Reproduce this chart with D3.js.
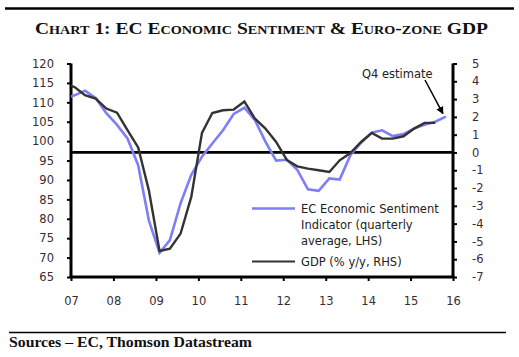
<!DOCTYPE html>
<html><head><meta charset="utf-8">
<script src="https://cdn.jsdelivr.net/npm/d3@7/dist/d3.min.js"></script>
<style>
html,body{margin:0;padding:0;background:#fff;}
svg{display:block;}
</style></head>
<body>
<script>
// Quarters 2006Q4 .. 2015Q4
const quarters = ["2006Q4",
 "2007Q1","2007Q2","2007Q3","2007Q4",
 "2008Q1","2008Q2","2008Q3","2008Q4",
 "2009Q1","2009Q2","2009Q3","2009Q4",
 "2010Q1","2010Q2","2010Q3","2010Q4",
 "2011Q1","2011Q2","2011Q3","2011Q4",
 "2012Q1","2012Q2","2012Q3","2012Q4",
 "2013Q1","2013Q2","2013Q3","2013Q4",
 "2014Q1","2014Q2","2014Q3","2014Q4",
 "2015Q1","2015Q2","2015Q3","2015Q4"];
// EC Economic Sentiment Indicator (quarterly average, LHS)
const esi = [111.0,
 111.8,113.0,111.1,107.2,
 104.2,100.7,93.8,79.6,
 71.2,74.5,84.0,91.3,
 96.0,99.4,102.8,107.0,
 108.6,105.5,99.9,95.0,
 95.2,92.6,87.6,87.2,
 90.4,90.1,96.4,99.6,
 102.2,102.8,101.3,101.8,
 103.3,104.2,105.0,106.3];
// GDP % y/y (RHS), to 2015Q3
const gdp = [3.85,
 3.68,3.22,3.03,2.47,
 2.24,1.25,0.28,-2.13,
 -5.54,-5.41,-4.56,-2.50,
 1.10,2.22,2.37,2.41,
 2.86,1.91,1.34,0.59,
 -0.42,-0.78,-0.91,-1.00,
 -1.10,-0.44,-0.03,0.59,
 1.10,0.78,0.78,0.91,
 1.34,1.66,1.66];
const leftTicks = [65,70,75,80,85,90,95,100,105,110,115,120];
const rightTicks = [-7,-6,-5,-4,-3,-2,-1,0,1,2,3,4,5];
const yearTicks = [2007,2008,2009,2010,2011,2012,2013,2014,2015,2016];

const W = 519, H = 357;
const svg = d3.select("body").append("svg").attr("width", W).attr("height", H);

const qDate = s => { const y = +s.slice(0,4), q = +s.slice(5); return new Date(y, 3*(q-1)+1, 1); };

const x0 = 71, x1 = 453, yTop = 63.5, yBot = 277;
const x = d3.scaleTime().domain([new Date(2007,0,1), new Date(2016,0,1)]).range([x0, x1]);
const yL = d3.scaleLinear().domain([65,120]).range([yBot, yTop]);
const yR = d3.scaleLinear().domain([-7,5]).range([yBot, yTop]);

// top rule
svg.append("line").attr("x1",5).attr("x2",514).attr("y1",8.5).attr("y2",8.5)
  .attr("stroke","#000").attr("stroke-width",2.5);
// title
svg.append("text").attr("x",35).attr("y",33.5)
  .attr("font-family","'Liberation Serif','DejaVu Serif',serif")
  .attr("font-weight","bold").attr("font-size",16.5)
  .style("font-variant","small-caps")
  .attr("fill","#111")
  .attr("textLength",453).attr("lengthAdjust","spacingAndGlyphs")
  .text("Chart 1: EC Economic Sentiment & Euro-zone GDP");

// clip
svg.append("clipPath").attr("id","plot").append("rect")
  .attr("x",x0).attr("y",yTop-5).attr("width",x1-x0).attr("height",yBot-yTop+10);

const tickFont = "'DejaVu Sans',sans-serif";
const labCol = "#3b2b30";

// left axis
const gL = svg.append("g").attr("transform",`translate(${x0},0)`)
  .call(d3.axisLeft(yL).tickValues(leftTicks).tickSize(4).tickPadding(13).tickFormat(d=>String(d)));
// right axis
const gR = svg.append("g").attr("transform",`translate(${x1},0)`)
  .call(d3.axisRight(yR).tickValues(rightTicks).tickSize(4).tickPadding(15).tickFormat(d=>String(d)));
// bottom axis
const gB = svg.append("g").attr("transform",`translate(0,${yBot})`)
  .call(d3.axisBottom(x).tickValues(yearTicks.map(y=>new Date(y,0,1))).tickSize(4).tickPadding(16)
    .tickFormat(d => d3.timeFormat("%y")(d)));

[gL,gR,gB].forEach(g=>{
  g.select(".domain").attr("stroke","#000").attr("stroke-width",3);
  g.selectAll(".tick line").attr("stroke","#000").attr("stroke-width",2);
  g.selectAll(".tick text").attr("font-family",tickFont).attr("font-size",11.5).attr("fill",labCol);
});
gB.select(".domain").remove();
gB.append("line").attr("x1",x0-1.5).attr("x2",x1+1.5).attr("y1",0).attr("y2",0)
  .attr("stroke","#000").attr("stroke-width",3);
gL.select(".domain").remove();
gL.append("line").attr("x1",0).attr("x2",0).attr("y1",yTop).attr("y2",yBot).attr("stroke","#000").attr("stroke-width",3);
gR.select(".domain").remove();
gR.append("line").attr("x1",0).attr("x2",0).attr("y1",yTop).attr("y2",yBot).attr("stroke","#000").attr("stroke-width",3);
gL.selectAll(".tick text").attr("text-anchor","end");
gR.selectAll(".tick text").attr("text-anchor","start");

// zero line (RHS)
svg.append("line").attr("x1",x0).attr("x2",x1).attr("y1",yR(0)).attr("y2",yR(0))
  .attr("stroke","#000").attr("stroke-width",2.8);

const plot = svg.append("g").attr("clip-path","url(#plot)");
const lineL = d3.line().x((d,i)=>x(qDate(quarters[i]))).y(d=>yL(d));
const lineR = d3.line().x((d,i)=>x(qDate(quarters[i]))).y(d=>yR(d));
plot.append("path").datum(esi).attr("d",lineL).attr("fill","none")
  .attr("stroke","#7f7ff5").attr("stroke-width",2.6).attr("stroke-linejoin","miter");
plot.append("path").datum(gdp).attr("d",lineR).attr("fill","none")
  .attr("stroke","#333333").attr("stroke-width",2.4).attr("stroke-linejoin","miter");

// annotation
const lastQ = quarters[quarters.length-1];
const ax = x(qDate(lastQ)), ay = yL(esi[esi.length-1]);
svg.append("defs").append("marker").attr("id","arr").attr("viewBox","0 0 10 10")
  .attr("refX",9).attr("refY",5).attr("markerWidth",5).attr("markerHeight",5)
  .attr("orient","auto").append("path").attr("d","M0,0L10,5L0,10z").attr("fill","#000");
svg.append("line").attr("x1",425).attr("y1",80).attr("x2",ax-3).attr("y2",ay-3)
  .attr("stroke","#000").attr("stroke-width",1.5).attr("marker-end","url(#arr)");
svg.append("text").attr("x",362).attr("y",78).attr("font-family",tickFont).attr("font-size",11.5)
  .attr("fill","#222").text("Q4 estimate");

// legend
const lg = svg.append("g");
lg.append("line").attr("x1",252).attr("x2",295).attr("y1",208.5).attr("y2",208.5)
  .attr("stroke","#7f7ff5").attr("stroke-width",2.4);
lg.append("line").attr("x1",252).attr("x2",295).attr("y1",261.5).attr("y2",261.5)
  .attr("stroke","#333").attr("stroke-width",2.2);
const legLines = [["EC Economic Sentiment",212.5],["Indicator (quarterly",228.5],["average, LHS)",244.5],["GDP (% y/y, RHS)",265.5]];
legLines.forEach(([t,yy])=>{
  lg.append("text").attr("x",301).attr("y",yy).attr("font-family",tickFont).attr("font-size",11.5)
    .attr("fill","#222").text(t);
});

// footer
svg.append("line").attr("x1",9).attr("x2",506).attr("y1",332.5).attr("y2",332.5)
  .attr("stroke","#000").attr("stroke-width",1.3);
svg.append("text").attr("x",9).attr("y",347).attr("font-family","'Liberation Serif','DejaVu Serif',serif")
  .attr("font-weight","bold").attr("font-size",15).attr("fill","#111")
  .attr("textLength",243).attr("lengthAdjust","spacingAndGlyphs")
  .text("Sources – EC, Thomson Datastream");
</script>
</body></html>
